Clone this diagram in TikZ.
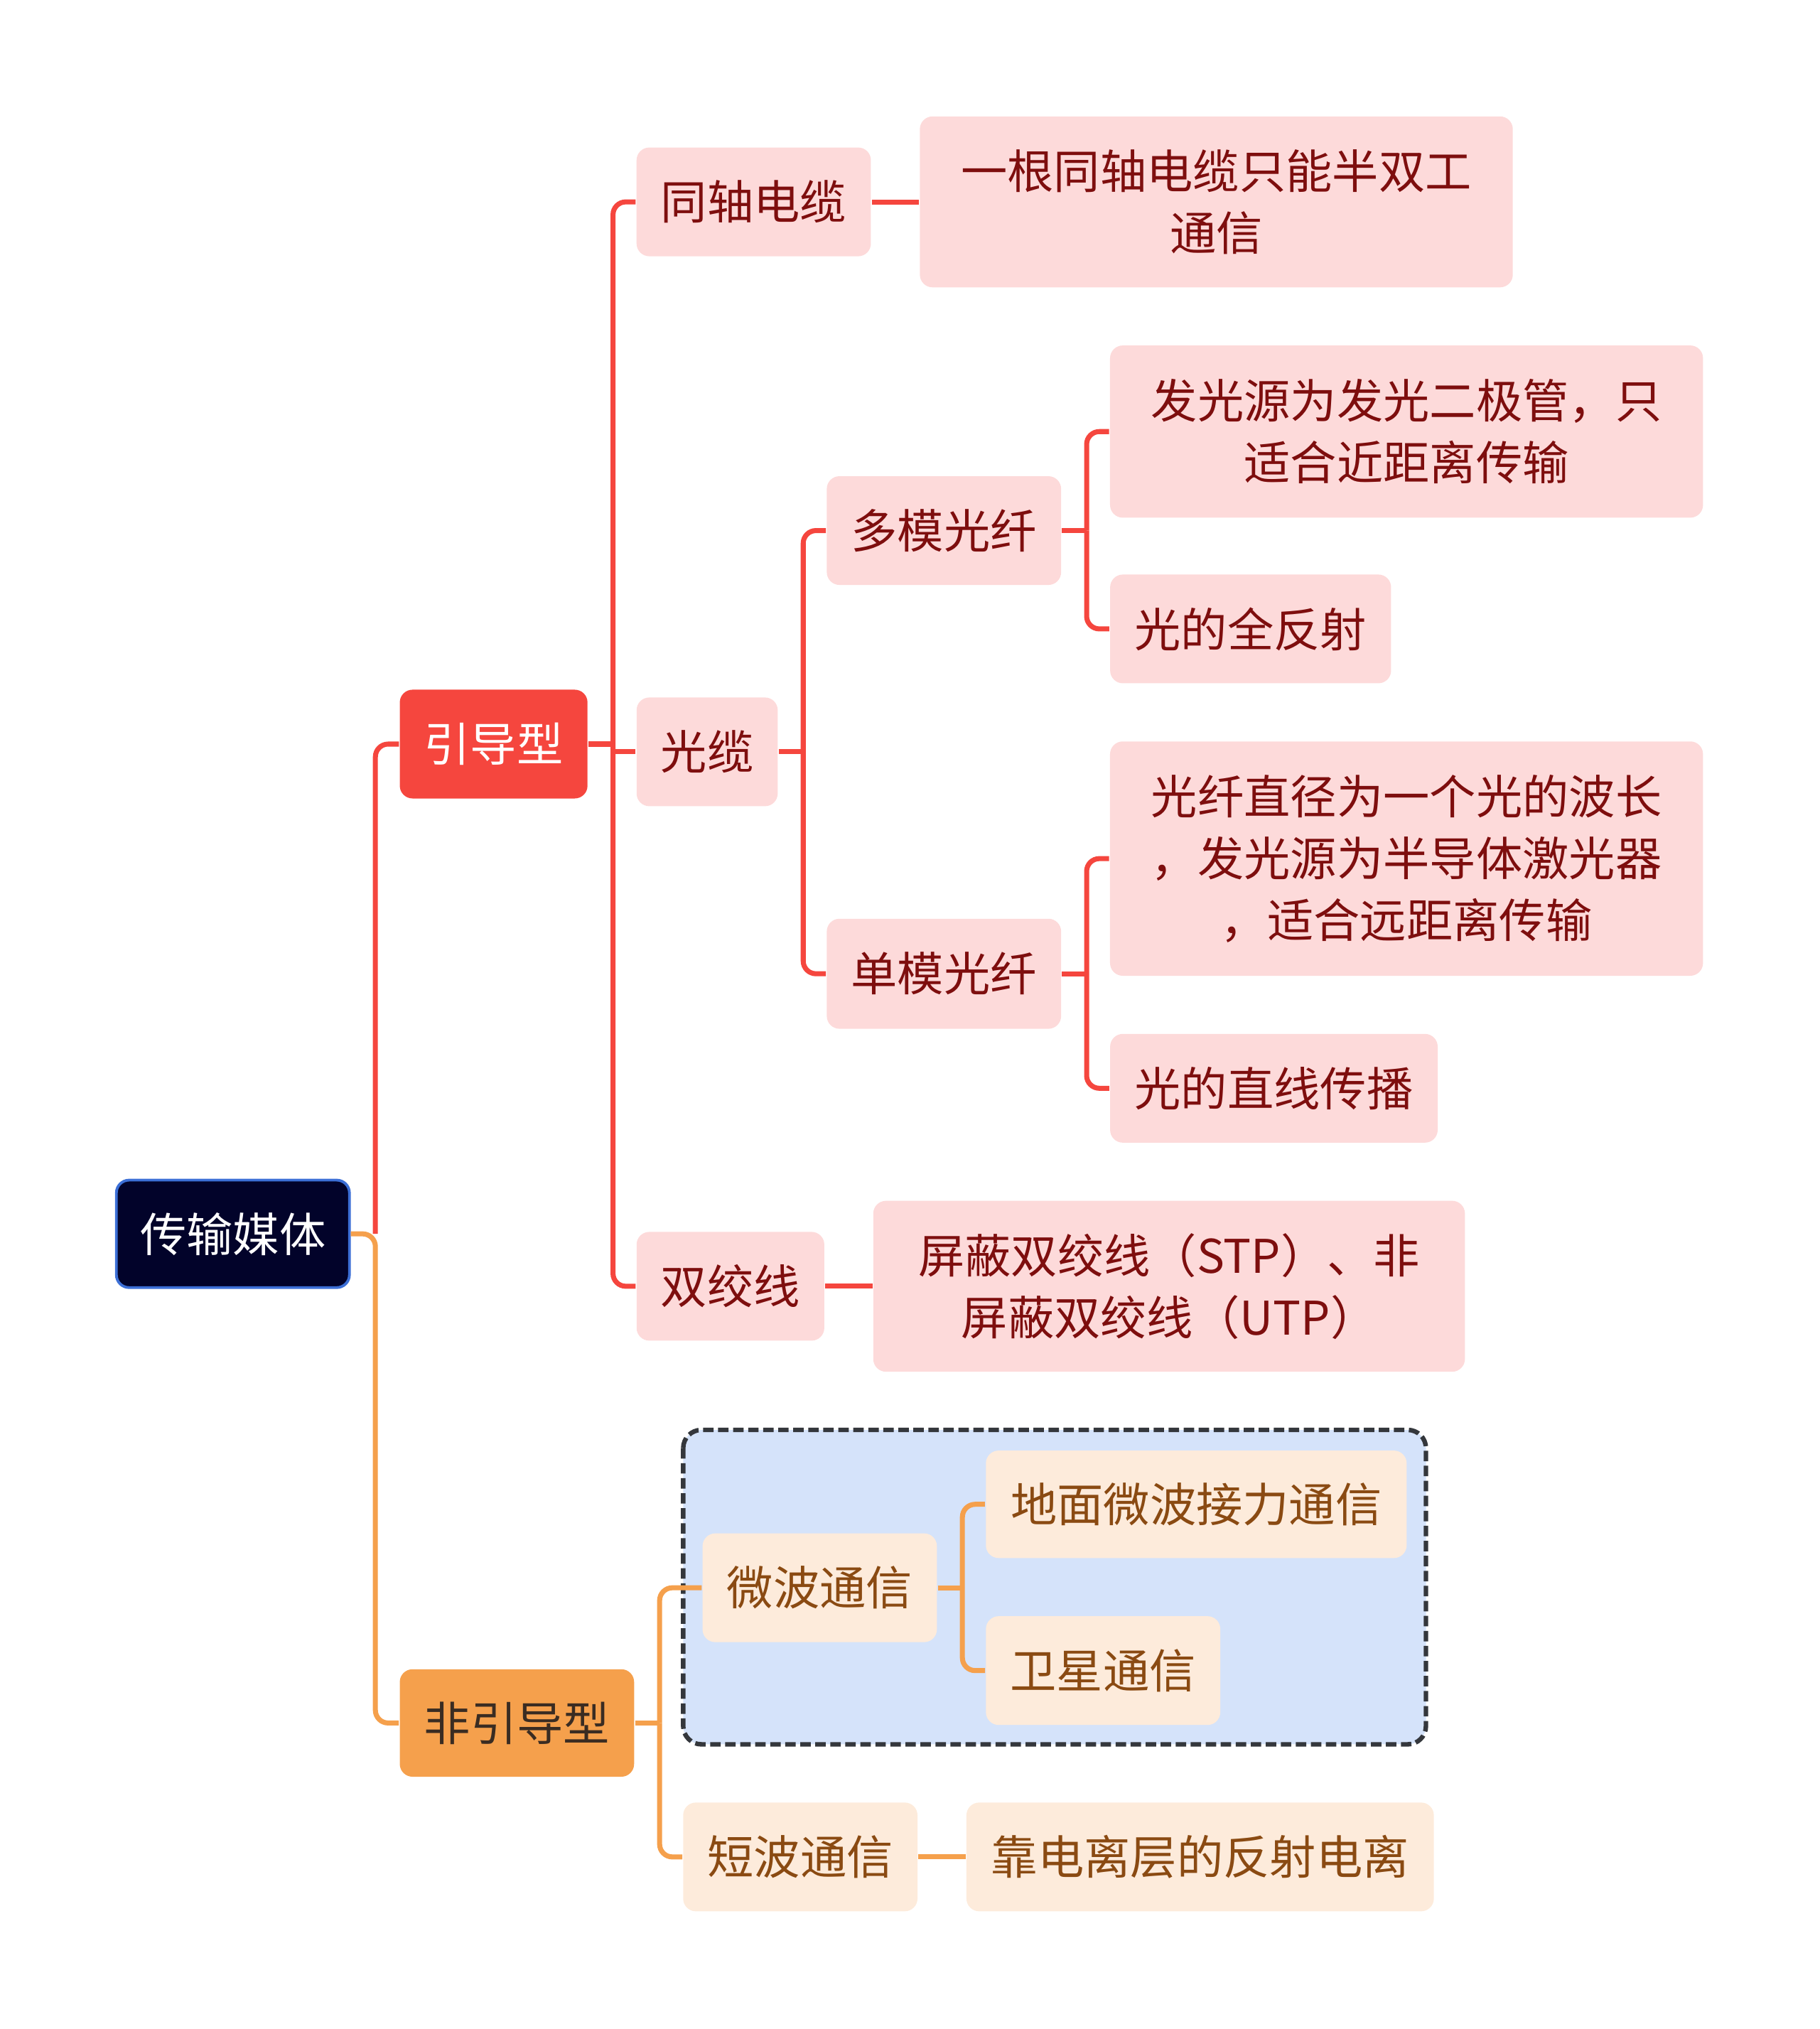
\documentclass[tikz,border=0pt]{standalone}
\usepackage{fontspec}
\setmainfont{Noto Sans CJK SC}
\usepackage{xcolor}
\usepackage{tikz}
\usetikzlibrary{positioning,calc}
\definecolor{navy}{HTML}{02032A}
\definecolor{navyrim}{HTML}{3C6FD6}
\definecolor{redmain}{HTML}{F5463E}
\definecolor{redink}{HTML}{7E0E0E}
\definecolor{pinkbg}{HTML}{FDDADA}
\definecolor{orangemain}{HTML}{F5A04C}
\definecolor{brownink}{HTML}{8A4A12}
\definecolor{darkink}{HTML}{3A2C22}
\definecolor{creambg}{HTML}{FDEBDB}
\definecolor{bluebg}{HTML}{D5E3FA}
\definecolor{dashgray}{HTML}{34373C}

\begin{document}
\begin{tikzpicture}[
  x=0.01cm, y=-0.01cm,
  every node/.style={font=\fontsize{10.2pt}{13.6pt}\selectfont, inner sep=0pt, align=center},
  topic/.style={rectangle, rounded corners=2.8pt, draw=navyrim, line width=0.6pt, fill=navy, text=white},
  guided/.style={rectangle, rounded corners=2.8pt, fill=redmain, text=white},
  unguided/.style={rectangle, rounded corners=2.8pt, fill=orangemain, text=darkink},
  pinkbox/.style={rectangle, rounded corners=2.8pt, fill=pinkbg, text=redink},
  creambox/.style={rectangle, rounded corners=2.8pt, fill=creambg, text=brownink},
  redline/.style={draw=redmain, line width=1.1pt, rounded corners=2.8pt},
  orangeline/.style={draw=orangemain, line width=1.1pt, rounded corners=2.8pt},
  groupbox/.style={draw=dashgray, line width=1pt, dash pattern=on 2.3pt off 1pt, fill=bluebg, rounded corners=4pt}
]
\useasboundingbox (0,0) rectangle (1406,1568);

% group frame for microwave branch
\draw[groupbox] (528,1105) rectangle (1102,1348);

% root and main branches
\node[topic, minimum width=1.8cm, minimum height=0.83cm]     (root) at (180,953.5)  {传输媒体};
\node[guided, minimum width=1.45cm, minimum height=0.84cm]   (yd)   at (381.5,575)  {引导型};
\node[unguided, minimum width=1.81cm, minimum height=0.83cm] (fyd)  at (399.5,1331.5) {非引导型};

% guided media
\node[pinkbox, minimum width=1.81cm, minimum height=0.84cm] (tz)   at (582.5,156) {同轴电缆};
\node[pinkbox, minimum width=4.58cm, minimum height=1.32cm] (tzd)  at (940,156)   {一根同轴电缆只能半双工\\通信};
\node[pinkbox, minimum width=1.09cm, minimum height=0.84cm] (gl)   at (546.5,581) {光缆};
\node[pinkbox, minimum width=1.81cm, minimum height=0.84cm] (dm)   at (729.5,410) {多模光纤};
\node[pinkbox, minimum width=4.58cm, minimum height=1.33cm] (dmd1) at (1087,333.5) {发光源为发光二极管，只\\适合近距离传输};
\node[pinkbox, minimum width=2.17cm, minimum height=0.84cm] (dmd2) at (966.5,486) {光的全反射};
\node[pinkbox, minimum width=1.81cm, minimum height=0.85cm] (sm)   at (729.5,752.5) {单模光纤};
\node[pinkbox, minimum width=4.58cm, minimum height=1.81cm] (smd1) at (1087,663.5) {光纤直径为一个光的波长\\，发光源为半导体激光器\\，适合远距离传输};
\node[pinkbox, minimum width=2.53cm, minimum height=0.84cm] (smd2) at (984.5,841) {光的直线传播};
\node[pinkbox, minimum width=1.45cm, minimum height=0.84cm] (sj)   at (564.5,994) {双绞线};
\node[pinkbox, minimum width=4.57cm, minimum height=1.32cm] (sjd)  at (903.5,994) {屏蔽双绞线（STP）、非\\屏蔽双绞线（UTP）};

% unguided media
\node[creambox, minimum width=1.81cm, minimum height=0.84cm] (wb)   at (633.5,1227)  {微波通信};
\node[creambox, minimum width=3.25cm, minimum height=0.83cm] (wbd1) at (924.5,1162.5) {地面微波接力通信};
\node[creambox, minimum width=1.81cm, minimum height=0.84cm] (wbd2) at (852.5,1291)  {卫星通信};
\node[creambox, minimum width=1.81cm, minimum height=0.84cm] (db)   at (618.5,1435)  {短波通信};
\node[creambox, minimum width=3.61cm, minimum height=0.84cm] (dbd)  at (927.5,1435)  {靠电离层的反射电离};

% forks
\coordinate (rootfork) at ($(root.east)+(19,0)$);
\coordinate (ydfork)   at ($(yd.east)+(19,0)$);
\coordinate (glfork)   at ($(gl.east)+(19,0)$);
\coordinate (dmfork)   at ($(dm.east)+(19,0)$);
\coordinate (smfork)   at ($(sm.east)+(19,0)$);
\coordinate (fydfork)  at ($(fyd.east)+(19,0)$);
\coordinate (wbfork)   at ($(wb.east)+(19,0)$);

% connectors
\draw[redline] (rootfork) |- (yd.west);
\draw[orangeline] (root.east) -- (rootfork) |- (fyd.west);

\draw[redline] (yd.east) -- (ydfork);
\draw[redline] (ydfork) |- (tz.west);
\draw[redline] (ydfork) |- (sj.west);
\draw[redline, sharp corners] (ydfork) |- (gl.west);
\draw[redline] (tz.east) -- (tzd.west);
\draw[redline] (sj.east) -- (sjd.west);

\draw[redline] (gl.east) -- (glfork);
\draw[redline] (glfork) |- (dm.west);
\draw[redline] (glfork) |- (sm.west);
\draw[redline] (dm.east) -- (dmfork);
\draw[redline] (dmfork) |- (dmd1.west);
\draw[redline] (dmfork) |- (dmd2.west);
\draw[redline] (sm.east) -- (smfork);
\draw[redline] (smfork) |- (smd1.west);
\draw[redline] (smfork) |- (smd2.west);

\draw[orangeline] (fyd.east) -- (fydfork);
\draw[orangeline] (fydfork) |- (wb.west);
\draw[orangeline] (fydfork) |- (db.west);
\draw[orangeline] (wb.east) -- (wbfork);
\draw[orangeline] (wbfork) |- (wbd1.west);
\draw[orangeline] (wbfork) |- (wbd2.west);
\draw[orangeline] (db.east) -- (dbd.west);
\end{tikzpicture}
\end{document}
